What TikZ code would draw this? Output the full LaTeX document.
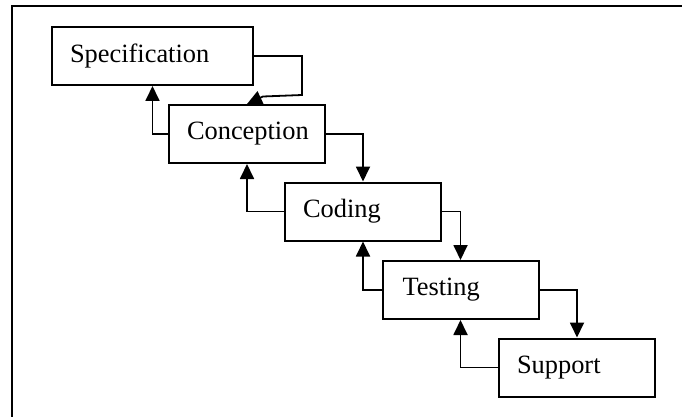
\documentclass[tikz,border=0pt]{standalone}
\usepackage{fontspec}
\setmainfont{Liberation Serif}
\usetikzlibrary{arrows.meta}
\begin{document}
\begin{tikzpicture}[x=1pt,y=-1pt,
  stagebox/.style={draw, line width=2pt, minimum height=58pt, inner xsep=18pt, inner ysep=0pt,
    font=\fontsize{26.4}{30}\selectfont},
  conn/.style={line width=1.8pt, -{Triangle[length=15pt,width=14pt]}}]
\useasboundingbox (0,0) rectangle (682,417);
\draw[line width=2pt] (682,6) -- (12,6) -- (12,417);
\node[stagebox, minimum width=201pt] (spec) at (152.5,56) {\makebox[165pt][l]{Specification}};
\node[stagebox, minimum width=156pt] (conc) at (247,134) {\makebox[120pt][l]{Conception}};
\node[stagebox, minimum width=156pt] (cod) at (363,211.5) {\makebox[120pt][l]{Coding}};
\node[stagebox, minimum width=156pt] (test) at (460.5,290) {\makebox[120pt][l]{\hspace{2pt}Testing}};
\node[stagebox, minimum width=156pt] (sup) at (577,367.5) {\makebox[120pt][l]{Support}};
\draw[conn] (spec.east) -- ++(48,0) -- ++(0,39) -- (263,96.5) -- (conc.north);
\draw[conn] (conc.west) -| (spec.south);
\draw[conn] (conc.east) -| (cod.north);
\draw[conn] (cod.west) -| (conc.south);
\draw[conn] (cod.east) -| (test.north);
\draw[conn] (test.west) -| (cod.south);
\draw[conn] (test.east) -| (sup.north);
\draw[conn] (sup.west) -| (test.south);
\end{tikzpicture}
\end{document}
